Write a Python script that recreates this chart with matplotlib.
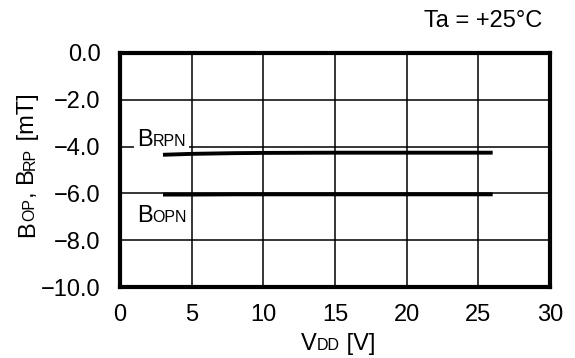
import matplotlib.pyplot as plt

plt.rcParams['font.family'] = ['Liberation Sans', 'DejaVu Sans']

# data
vdd = [3, 5, 8, 10, 15, 20, 26]
brp = [-4.35, -4.31, -4.28, -4.27, -4.26, -4.26, -4.26]
bop = [-6.05, -6.05, -6.04, -6.04, -6.04, -6.04, -6.04]

xticks = [0, 5, 10, 15, 20, 25, 30]
yticks = [0, -2, -4, -6, -8, -10]

FS = 17
FS_S = 11.5

fig = plt.figure(figsize=(5.75, 3.58), dpi=100)
ax = fig.add_axes([0.2087, 0.1983, 0.7478, 0.6537])

ax.plot(vdd, brp, color='black', lw=2.8, solid_capstyle='butt')
ax.plot(vdd, bop, color='black', lw=2.8, solid_capstyle='butt')

ax.set_xlim(0, 30)
ax.set_ylim(-10, 0)
ax.set_xticks(xticks)
ax.set_yticks(yticks)
ax.set_xticklabels([str(x) for x in xticks], fontsize=FS)
ax.set_yticklabels(['%.1f' % y if y == 0 else '\u2212%.1f' % abs(y) for y in yticks],
                   fontsize=FS)
ax.tick_params(axis='y', length=0, pad=14)
ax.tick_params(axis='x', length=0, pad=12.5)
ax.grid(True, color='black', lw=1.1)
for s in ax.spines.values():
    s.set_linewidth(3)
    s.set_zorder(5)


def small_after(prev, txt, fs, dy=0.0, **kw):
    return plt.annotate(txt, xy=(1, 0), xycoords=prev, fontsize=fs, va='bottom',
                        ha='left', xytext=(0, dy), textcoords='offset points',
                        annotation_clip=False, **kw)


# curve labels
ax.fill_between([0.98, 4.8], -4.06, -3.1, color='white', zorder=3, lw=0)
t1 = ax.text(1.19, -3.97, 'B', fontsize=FS, va='baseline', ha='left', zorder=4)
small_after(t1, 'RPN', FS_S, 1.2, zorder=4)

t2 = ax.text(1.19, -7.22, 'B', fontsize=FS, va='baseline', ha='left')
small_after(t2, 'OPN', FS_S, 1.2)

# x label: VDD [V]
tx = fig.text(0.551, 0.022, 'V', fontsize=FS, ha='right', va='baseline')
ann = small_after(tx, 'DD', FS_S, 1.2)
small_after(ann, ' [V]', FS, -1.2)

# y label: BOP, BRP [mT] (rotated)
pieces = [('B', FS), ('OP', FS_S), (', B', FS), ('RP', FS_S), (' [mT]', FS)]
prev = fig.text(0.068, 0.338, pieces[0][0], fontsize=pieces[0][1], rotation=90,
                ha='left', va='bottom', rotation_mode='anchor')
prev_fs = pieces[0][1]
for txt, fs in pieces[1:]:
    shift = -1.2 if fs < prev_fs else (1.2 if fs > prev_fs else 0)
    prev = plt.annotate(txt, xy=(1, 1), xycoords=prev, fontsize=fs, rotation=90,
                        ha='right', va='bottom', annotation_clip=False,
                        xytext=(shift, 0), textcoords='offset points')
    prev_fs = fs

fig.text(0.943, 0.925, 'Ta = +25\u00b0C', fontsize=FS, ha='right', va='baseline')

fig.savefig('out.png', dpi=100)
